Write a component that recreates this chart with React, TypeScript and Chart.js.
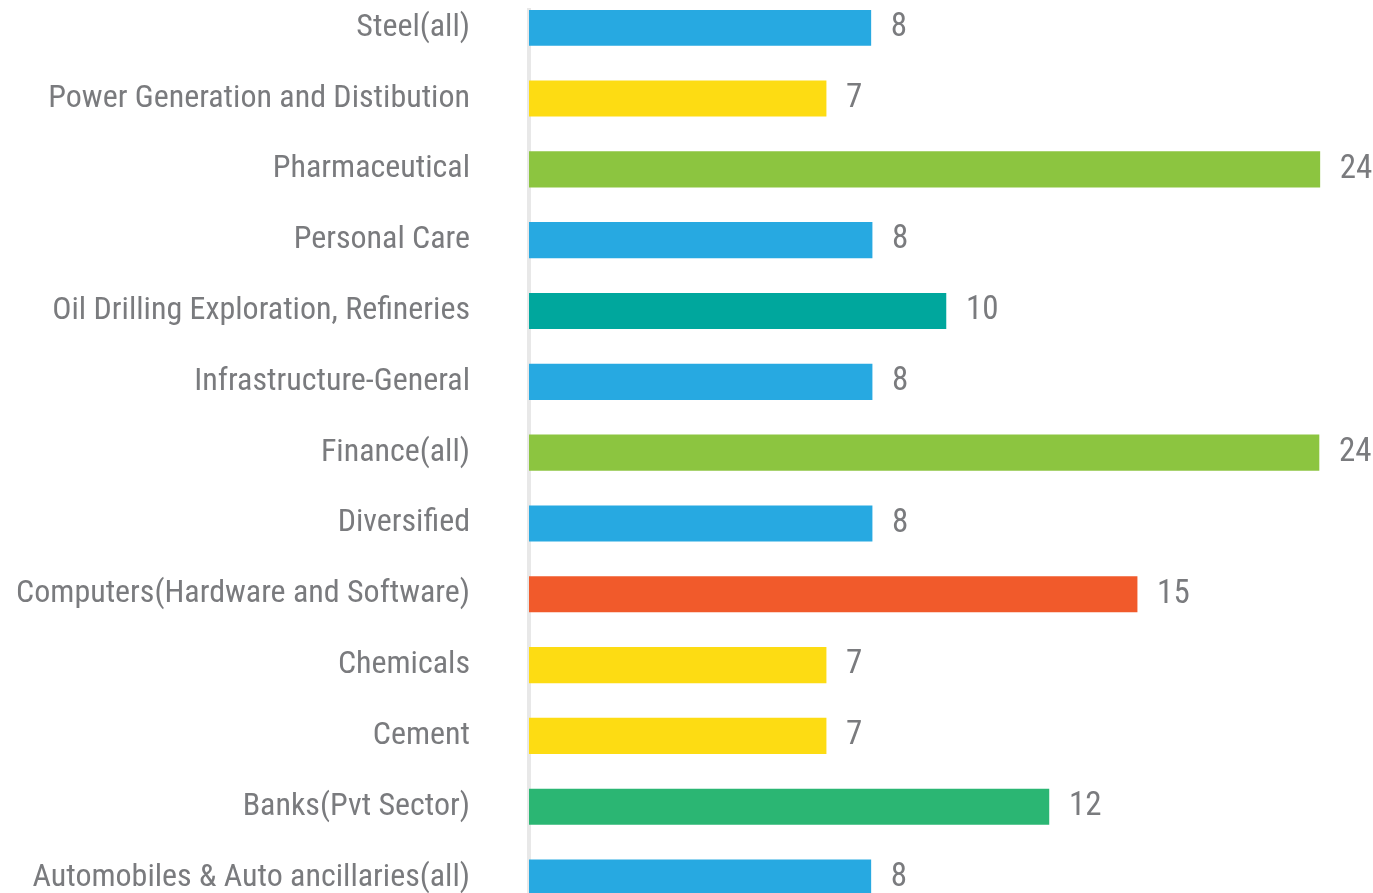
import React, { useEffect, useRef } from "react";
import { Chart, registerables } from "chart.js";

Chart.register(...registerables);

const categories = [
  "Steel(all)",
  "Power Generation and Distibution",
  "Pharmaceutical",
  "Personal Care",
  "Oil Drilling Exploration, Refineries",
  "Infrastructure-General",
  "Finance(all)",
  "Diversified",
  "Computers(Hardware and Software)",
  "Chemicals",
  "Cement",
  "Banks(Pvt Sector)",
  "Automobiles & Auto ancillaries(all)",
];

// Numbers printed next to the bars
const counts = [8, 7, 24, 8, 10, 8, 24, 8, 15, 7, 7, 12, 8];

// Bar lengths as drawn in the picture (axis 0..20)
const barLengths = [8.1, 7.04, 18.74, 8.13, 9.88, 8.13, 18.72, 8.13, 14.41, 7.04, 7.04, 12.32, 8.1];

const barColors = [
  "#27a9e1",
  "#fddc13",
  "#8cc540",
  "#27a9e1",
  "#00a79d",
  "#27a9e1",
  "#8cc540",
  "#27a9e1",
  "#f15a2b",
  "#fddc13",
  "#fddc13",
  "#2bb673",
  "#27a9e1",
];

const FONT_FAMILY = "'Roboto Condensed', 'Liberation Sans Narrow', 'DejaVu Sans Condensed', sans-serif";
const TEXT_COLOR = "#7a7b7e";

const valueLabels = {
  id: "valueLabels",
  afterDatasetsDraw(chart: any) {
    const ctx = chart.ctx;
    const meta = chart.getDatasetMeta(0);
    ctx.save();
    ctx.font = `normal 400 33px ${FONT_FAMILY}`;
    ctx.fillStyle = TEXT_COLOR;
    ctx.textAlign = "left";
    ctx.textBaseline = "middle";
    meta.data.forEach((bar: any, i: number) => {
      ctx.fillText(String(counts[i]), bar.x + 20, bar.y);
    });
    ctx.restore();
  },
};

export default function App() {
  const canvasRef = useRef<HTMLCanvasElement | null>(null);

  useEffect(() => {
    const canvas = canvasRef.current;
    if (!canvas) return;
    const chart = new Chart(canvas, {
      type: "bar",
      data: {
        datasets: [
          {
            data: barLengths.map((v, i) => ({ x: v, y: i })),
            backgroundColor: barColors,
            borderWidth: 0,
            barThickness: 35.5,
          },
        ],
      },
      options: {
        indexAxis: "y",
        animation: false,
        responsive: false,
        layout: { padding: { top: 10, right: 0, bottom: 0, left: 0 } },
        plugins: {
          legend: { display: false },
          tooltip: { enabled: false },
        },
        scales: {
          x: {
            type: "linear",
            display: false,
            min: 0,
            max: 20,
          },
          y: {
            type: "linear",
            reverse: true,
            offset: false,
            min: -0.25,
            max: 12.5,
            afterBuildTicks: (scale: any) => {
              scale.ticks = categories.map((_, i) => ({ value: i }));
            },
            afterFit: (scale: any) => {
              scale.width = 529;
              scale.paddingTop = 0;
              scale.paddingBottom = 0;
            },
            grid: { display: false, drawTicks: false },
            border: { display: true, color: "#e8e8e8", width: 4 },
            ticks: {
              autoSkip: false,
              padding: 59,
              color: TEXT_COLOR,
              font: { family: FONT_FAMILY, size: 32 },
              callback: (value: any) => categories[Number(value)] ?? "",
            },
          },
        },
      },
      plugins: [valueLabels],
    } as any);
    return () => chart.destroy();
  }, []);

  return (
    <div
      style={{
        position: "fixed",
        left: 0,
        top: 0,
        width: 1373,
        height: 893,
        overflow: "hidden",
        background: "#ffffff",
      }}
    >
      <canvas
        ref={canvasRef}
        width={1373}
        height={913}
        style={{ position: "absolute", left: 0, top: 0, display: "block" }}
      />
    </div>
  );
}
